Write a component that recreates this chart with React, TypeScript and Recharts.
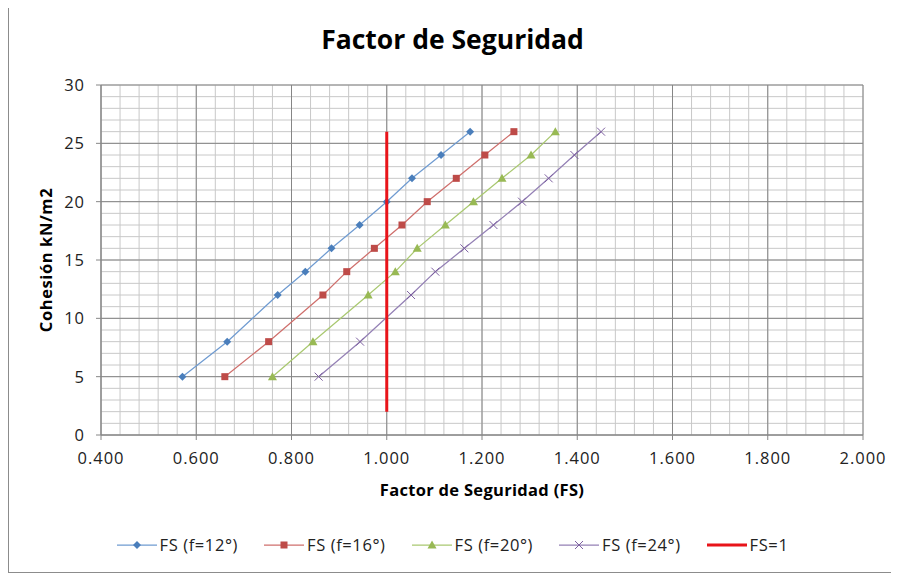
import React from "react";
import {
  ScatterChart,
  Scatter,
  XAxis,
  YAxis,
  CartesianGrid,
  Label,
} from "recharts";

// Cohesión (kN/m2) shared by the four FS curves
const cohesion = [5, 8, 12, 14, 16, 18, 20, 22, 24, 26];

// Factor de seguridad for each friction angle
const fs12 = [0.571, 0.665, 0.771, 0.829, 0.884, 0.943, 1.0, 1.053, 1.114, 1.175];
const fs16 = [0.66, 0.752, 0.866, 0.916, 0.974, 1.032, 1.085, 1.146, 1.206, 1.267];
const fs20 = [0.76, 0.845, 0.961, 1.018, 1.064, 1.123, 1.182, 1.242, 1.303, 1.354];
const fs24 = [0.857, 0.944, 1.051, 1.102, 1.163, 1.224, 1.284, 1.34, 1.394, 1.45];

// FS = 1 reference line
const fsOneX = [1, 1];
const fsOneY = [2, 26];

const xTicks = [0.4, 0.6, 0.8, 1.0, 1.2, 1.4, 1.6, 1.8, 2.0];
const yTicks = [0, 5, 10, 15, 20, 25, 30];

const FONT = "'Open Sans', sans-serif";

const toPoints = (xs: number[], ys: number[]) => xs.map((x, i) => ({ x, y: ys[i] }));

// minor gridlines (Excel style): every 0.04 on x, every 1 on y
const minorX: number[] = [];
for (let i = 0; i <= 40; i++) minorX.push(+(0.4 + i * 0.04).toFixed(2));
const minorY: number[] = [];
for (let i = 0; i <= 30; i++) minorY.push(i);

type MarkerKind = "diamond" | "square" | "triangle" | "x" | "none";

function Marker({ kind, cx, cy, color }: { kind: MarkerKind; cx: number; cy: number; color: string }) {
  if (kind === "diamond") {
    const r = 4;
    return <polygon points={`${cx},${cy - r} ${cx + r},${cy} ${cx},${cy + r} ${cx - r},${cy}`} fill={color} />;
  }
  if (kind === "square") {
    return <rect x={cx - 3.5} y={cy - 3.5} width={7} height={7} fill={color} />;
  }
  if (kind === "triangle") {
    return <polygon points={`${cx},${cy - 4.5} ${cx + 4.5},${cy + 3.5} ${cx - 4.5},${cy + 3.5}`} fill={color} />;
  }
  if (kind === "x") {
    const r = 4;
    return (
      <g stroke={color} strokeWidth={1}>
        <line x1={cx - r} y1={cy - r} x2={cx + r} y2={cy + r} />
        <line x1={cx - r} y1={cy + r} x2={cx + r} y2={cy - r} />
      </g>
    );
  }
  return <g />;
}

const series = [
  { name: "FS (f=12°)", xs: fs12, ys: cohesion, line: "#6f9bd1", marker: "#4a7ebb", kind: "diamond" as MarkerKind, width: 1.25 },
  { name: "FS (f=16°)", xs: fs16, ys: cohesion, line: "#cf6f6c", marker: "#be4b48", kind: "square" as MarkerKind, width: 1.25 },
  { name: "FS (f=20°)", xs: fs20, ys: cohesion, line: "#a9c870", marker: "#98b954", kind: "triangle" as MarkerKind, width: 1.25 },
  { name: "FS (f=24°)", xs: fs24, ys: cohesion, line: "#9480b5", marker: "#7d60a0", kind: "x" as MarkerKind, width: 1.25 },
  { name: "FS=1", xs: fsOneX, ys: fsOneY, line: "#e8141a", marker: "#e8141a", kind: "none" as MarkerKind, width: 3 },
];

function LegendItem({ s, last }: { s: (typeof series)[number]; last: boolean }) {
  return (
    <div style={{ display: "flex", alignItems: "center", marginRight: last ? 0 : 26 }}>
      <svg width={40} height={14} style={{ marginRight: 3 }}>
        <line x1={0} y1={7} x2={40} y2={7} stroke={s.line} strokeWidth={s.width} />
        <Marker kind={s.kind} cx={20} cy={7} color={s.marker} />
      </svg>
      <span>{s.name}</span>
    </div>
  );
}

const tickStyle = { fill: "#222", fontSize: 16.5, fontFamily: FONT, letterSpacing: 1 };

export default function App() {
  return (
    <div
      style={{
        position: "relative",
        width: 889,
        height: 567,
        marginTop: -2,
        border: "1px solid #8c8c8c",
        boxSizing: "border-box",
        background: "#fff",
        fontFamily: FONT,
      }}
    >
      <div
        style={{
          position: "absolute",
          top: 14,
          left: 0,
          width: "100%",
          textAlign: "center",
          fontSize: 26.5,
          fontWeight: 700,
          color: "#000",
        }}
      >
        Factor de Seguridad
      </div>
      <div style={{ position: "absolute", left: 0, top: 0 }}>
        <ScatterChart width={887} height={565} margin={{ top: 78, right: 33, bottom: 67, left: 32 }}>
          {/* hidden axes only used to place the minor gridlines */}
          <XAxis xAxisId="minor" type="number" dataKey="x" domain={[0.4, 2]} ticks={minorX} interval={0} allowDataOverflow hide />
          <YAxis yAxisId="minor" type="number" dataKey="y" domain={[0, 30]} ticks={minorY} interval={0} allowDataOverflow hide />
          <CartesianGrid xAxisId="minor" yAxisId="minor" stroke="#c8c8c8" strokeWidth={1} />
          <CartesianGrid stroke="#868686" strokeWidth={1} />
          <XAxis
            type="number"
            dataKey="x"
            domain={[0.4, 2]}
            ticks={xTicks}
            interval={0}
            allowDataOverflow
            tickFormatter={(v: number) => v.toFixed(3)}
            height={70}
            tickSize={5}
            tickMargin={12}
            stroke="#868686"
            tick={tickStyle}
          >
            <Label
              value="Factor de Seguridad (FS)"
              position="insideBottom"
              offset={9}
              style={{ fontWeight: 700, fontSize: 16.5, fill: "#000", fontFamily: FONT, letterSpacing: 0.3 }}
            />
          </XAxis>
          <YAxis
            type="number"
            dataKey="y"
            domain={[0, 30]}
            ticks={yTicks}
            interval={0}
            allowDataOverflow
            width={60}
            tickSize={5}
            tickMargin={11}
            stroke="#868686"
            tick={tickStyle}
          >
            <Label
              value="Cohesión kN/m2"
              angle={-90}
              position="insideLeft"
              offset={5}
              style={{ fontWeight: 700, fontSize: 16.5, fill: "#000", textAnchor: "middle", fontFamily: FONT, letterSpacing: 0.6 }}
            />
          </YAxis>
          {series.map((s) => (
            <Scatter
              key={s.name}
              name={s.name}
              data={toPoints(s.xs, s.ys)}
              line={{ stroke: s.line, strokeWidth: s.width }}
              lineType="joint"
              isAnimationActive={false}
              shape={(p: any) => <Marker kind={s.kind} cx={p.cx} cy={p.cy} color={s.marker} />}
            />
          ))}
        </ScatterChart>
      </div>
      <div
        style={{
          position: "absolute",
          top: 526,
          left: 0,
          width: "100%",
          display: "flex",
          justifyContent: "center",
          fontSize: 16.5,
          letterSpacing: 0.6,
          color: "#222",
          boxSizing: "border-box",
        }}
      >
        {series.map((s, i) => (
          <LegendItem key={s.name} s={s} last={i === series.length - 1} />
        ))}
      </div>
    </div>
  );
}
